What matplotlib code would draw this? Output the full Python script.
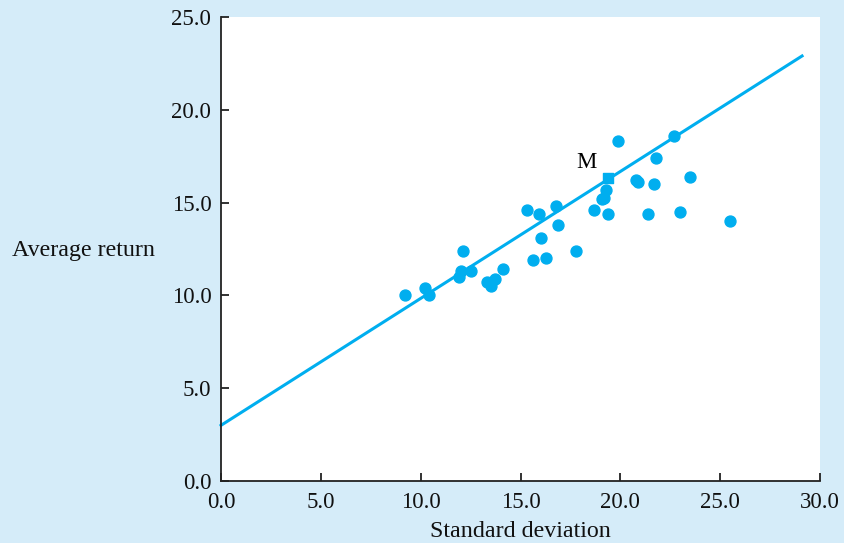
import matplotlib.pyplot as plt

# portfolios: standard deviation vs average return
std_dev = [9.2, 10.2, 10.4, 12.1, 12.0, 11.9, 12.5, 13.3, 13.7, 13.5, 14.1,
           15.3, 15.9, 16.8, 16.9, 16.0, 15.6, 16.3, 17.8,
           19.9, 22.7, 21.8, 20.8, 20.9, 21.7, 23.5, 19.3, 19.1, 19.2,
           18.7, 19.4, 21.4, 23.0, 25.5]
avg_return = [10.0, 10.4, 10.0, 12.4, 11.3, 11.0, 11.3, 10.7, 10.9, 10.5, 11.4,
              14.6, 14.4, 14.8, 13.8, 13.1, 11.9, 12.0, 12.4,
              18.3, 18.6, 17.4, 16.2, 16.1, 16.0, 16.4, 15.7, 15.2, 15.25,
              14.6, 14.4, 14.4, 14.5, 14.0]

# market portfolio M
m_x, m_y = 19.4, 16.3

# fitted line end points
line_x = [0.0, 29.1]
line_y = [3.0, 22.9]

blue = '#00aeef'
bg = '#d5ecf9'

plt.rcParams['font.family'] = ['Liberation Serif', 'DejaVu Serif']

fig = plt.figure(figsize=(8.44, 5.43), dpi=100, facecolor=bg)
ax = fig.add_axes([0.2619, 0.1142, 0.7097, 0.8545])
ax.set_facecolor('white')

ax.plot(line_x, line_y, color=blue, lw=2.2, clip_on=False, zorder=2)
ax.scatter(std_dev, avg_return, s=62, color=blue, zorder=3, clip_on=False)
ax.scatter([m_x], [m_y], s=62, marker='s', color=blue, zorder=3)
ax.text(m_x - 1.1, m_y + 0.85, 'M', fontsize=16.5, ha='center', va='center')

ax.set_xlim(0, 30)
ax.set_ylim(0, 25)
ax.set_xticks([0, 5, 10, 15, 20, 25, 30])
ax.set_yticks([0, 5, 10, 15, 20, 25])
ax.set_xticklabels(['0.0', '5.0', '10.0', '15.0', '20.0', '25.0', '30.0'])
ax.set_yticklabels(['0.0', '5.0', '10.0', '15.0', '20.0', '25.0'])

for s in ['top', 'right']:
    ax.spines[s].set_visible(False)
for s in ['left', 'bottom']:
    ax.spines[s].set_color('#222222')
    ax.spines[s].set_linewidth(1.3)

ax.tick_params(direction='in', length=6, width=1.3, color='#222222',
               labelsize=16.5, labelcolor='#111111')
ax.tick_params(axis='y', pad=7)
ax.tick_params(axis='x', pad=8)

ax.set_xlabel('Standard deviation', fontsize=17.3, color='#111111')
ax.xaxis.set_label_coords(0.5, -0.086)
ax.set_ylabel('Average return', fontsize=17.3, rotation=0, ha='right',
              va='center', color='#111111')
ax.yaxis.set_label_coords(-0.11, 0.496)

fig.savefig('out.png', dpi=100, facecolor=bg)
